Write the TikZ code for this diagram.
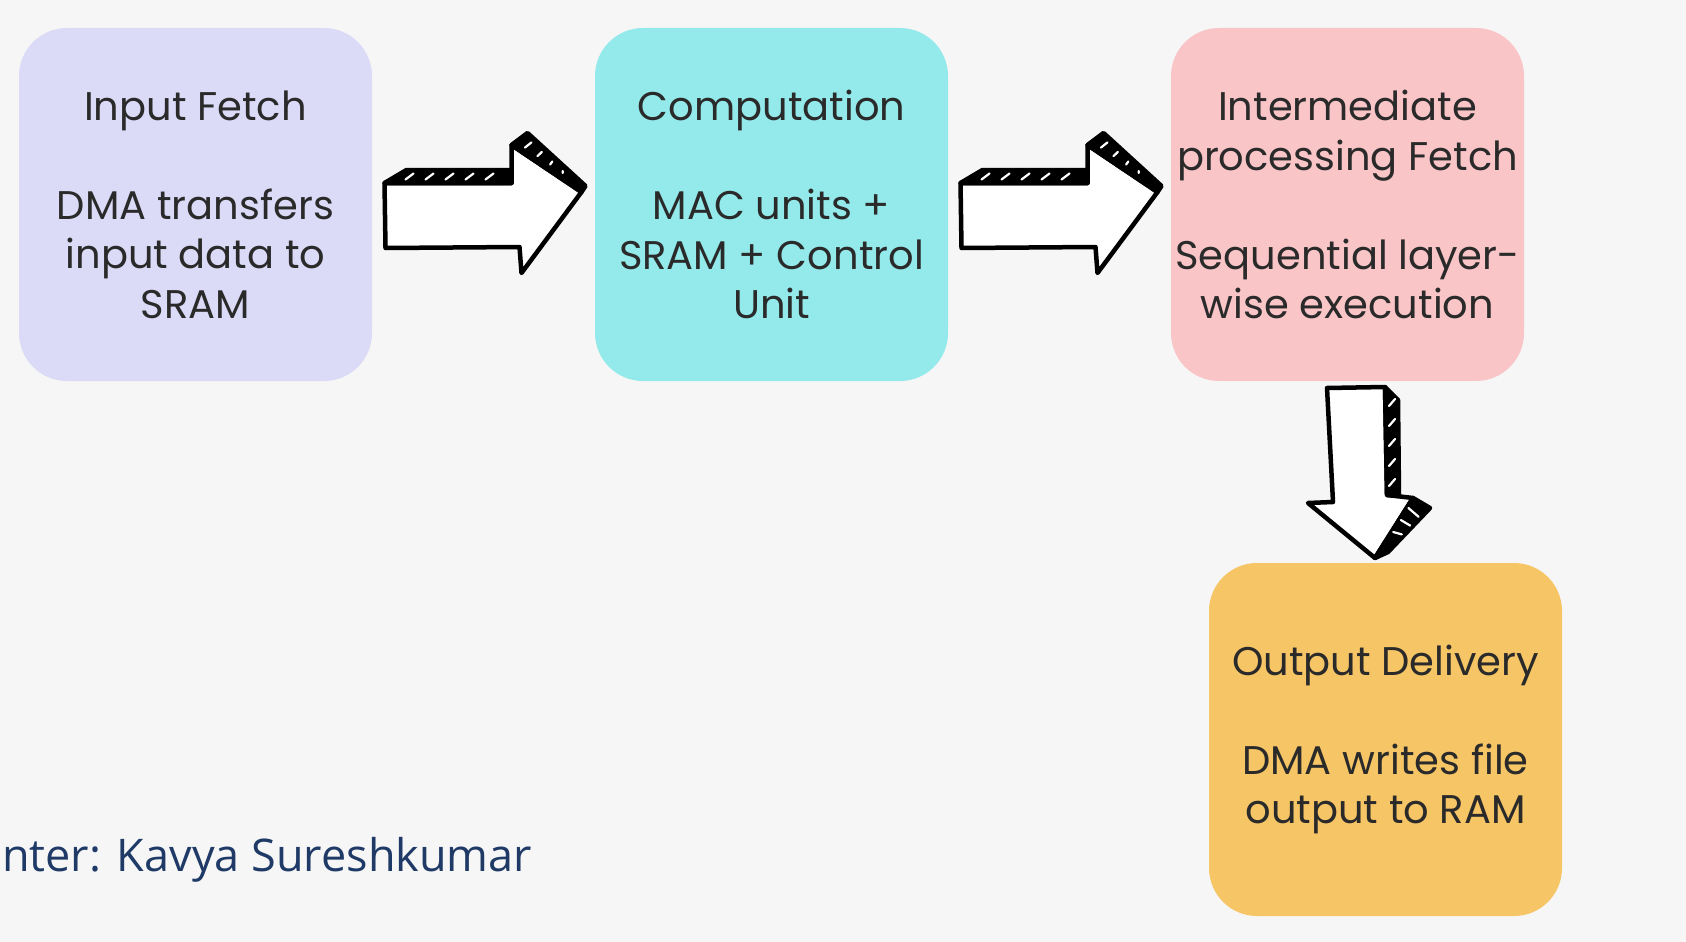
\documentclass[tikz,border=0pt]{standalone}
\usepackage{fontspec}
\setmainfont{Poppins}
\newfontfamily\bottomfont{Open Sans}
\usetikzlibrary{calc}
\definecolor{bgc}{HTML}{F6F6F6}
\definecolor{lav}{HTML}{DBDBF8}
\definecolor{cyanb}{HTML}{94E9EA}
\definecolor{pinkb}{HTML}{F9C5C7}
\definecolor{orab}{HTML}{F6C566}
\definecolor{txt}{HTML}{2A2A2A}
\definecolor{navy}{HTML}{1F3A66}
\tikzset{
  box/.style={rectangle, rounded corners=48pt, minimum width=353pt, minimum height=353pt,
    inner sep=0pt, outer sep=0pt, align=center, text=txt,
    font=\fontsize{40}{49.5}\selectfont},
  arrline/.style={line width=4.5pt, line join=round, draw=black},
  hatch/.style={white, line width=2.2pt, line cap=round},
  rarrow/.pic={
    \draw[arrline, fill=white] (-99,-21.5) -- (28,-21.5) -- (28,-59.5) -- (98,-12.5) -- (38,68.5) -- (36,42.5) -- (-98,43.5) -- cycle;
    \filldraw[arrline, fill=black] (-99,-21.5) -- (-77,-34.5) -- (28,-34.5) -- (28,-21.5) -- cycle;
    \filldraw[arrline, fill=black] (28,-59.5) -- (44,-71.5) -- (102,-18.5) -- (98,-12.5) -- cycle;
    \foreach \x in {-78,-58,...,12} {\draw[hatch] (\x,-25) -- (\x+8,-31);}
    \foreach \t in {0.12,0.3,0.48,0.66} {\draw[hatch] ($(28,-59.5)!\t!(98,-12.5)+(5,-3)$) -- ($(44,-71.5)!\t!(102,-18.5)+(-3,3)$);}
  },
  darrow/.pic={
    \draw[arrline, fill=white] (-39.5,-84) -- (18.5,-85) -- (20.5,23) -- (46.5,26) -- (8.5,86) -- (-58.5,31) -- (-33.5,30) -- cycle;
    \filldraw[arrline, fill=black] (18.5,-85) -- (31.5,-72) -- (32.5,24) -- (20.5,23) -- cycle;
    \filldraw[arrline, fill=black] (46.5,26) -- (63.5,36) -- (21.5,80) -- (8.5,86) -- cycle;
    \foreach \y in {-66,-46,...,14} {\draw[hatch] (22.5,\y) -- (28.5,\y-7);}
    \foreach \t in {0.2,0.4,0.6} {\draw[hatch] ($(46.5,26)!\t!(8.5,86)+(3,-2)$) -- ($(63.5,36)!\t!(21.5,80)+(-3,0)$);}
  }
}
\begin{document}
\begin{tikzpicture}[x=1pt, y=-1pt]
\fill[bgc] (0,0) rectangle (1686,942);
\useasboundingbox (0,0) rectangle (1686,942);
\node[box, fill=lav] (inp) at (195.5,204.5) {Input Fetch\\[49.5pt]DMA transfers\\input data to\\SRAM};
\node[box, fill=cyanb] (comp) at (771.5,204.5) {Computation\\[49.5pt]MAC units +\\SRAM + Control\\Unit};
\node[box, fill=pinkb] (inter) at (1347.5,204.5) {Intermediate\\processing Fetch\\[49.5pt]Sequential layer-\\wise execution};
\node[box, fill=orab] (outp) at (1385.5,739.5) {Output Delivery\\[49.5pt]DMA writes file\\output to RAM};
\coordinate (m1) at ($(inp.east)!0.5!(comp.west)$);
\coordinate (m2) at ($(comp.east)!0.5!(inter.west)$);
\coordinate (m3) at ($(inter.south)!0.5!(outp.north)$);
\pic at (m1) {rarrow};
\pic at (m2) {rarrow};
\pic at (m3) {darrow};
\node[anchor=base west, inner sep=0pt, text=navy, font=\bottomfont\fontsize{45}{52}\selectfont] (pres) at (2,871) {nter: Kavya Sureshkumar};
\end{tikzpicture}
\end{document}
